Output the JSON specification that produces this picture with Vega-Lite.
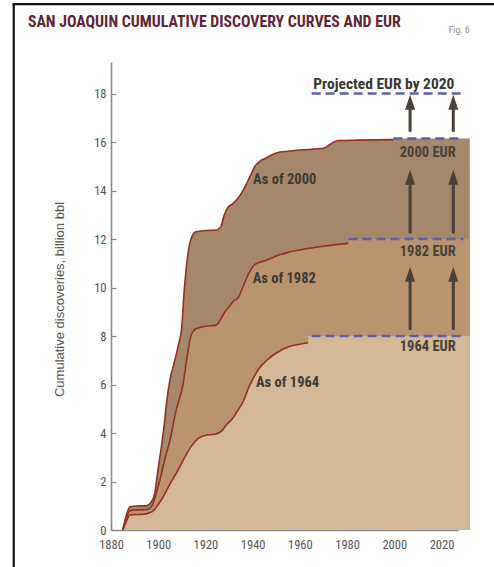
{
  "$schema": "https://vega.github.io/schema/vega-lite/v6.json",
  "width": 347,
  "height": 468,
  "autosize": {"type": "none"},
  "padding": {"left": 111, "top": 62, "right": 36, "bottom": 37},
  "background": "white",
  "config": {
    "view": {"stroke": null},
    "axis": {
      "domainColor": "#8a8a8a", "domainWidth": 1.6,
      "tickColor": "#8a8a8a", "tickWidth": 1.2, "tickSize": -5,
      "labelColor": "#555555", "labelFont": "Roboto Condensed, Liberation Sans Narrow, DejaVu Sans Condensed, Liberation Sans, sans-serif", "labelFontSize": 12.5,
      "labelFlush": false,
      "grid": false,
      "titleFont": "Liberation Sans, Arial, sans-serif", "titleFontWeight": "normal", "titleColor": "#555555", "titleFontSize": 13
    }
  },
  "datasets": {
    "curves": [
      {"series": "As of 2000", "phase": "discovery", "year": 1885, "value": 0},
      {"series": "As of 2000", "phase": "discovery", "year": 1886.5, "value": 0.6},
      {"series": "As of 2000", "phase": "discovery", "year": 1888, "value": 0.96},
      {"series": "As of 2000", "phase": "discovery", "year": 1891, "value": 0.99},
      {"series": "As of 2000", "phase": "discovery", "year": 1895, "value": 1.0},
      {"series": "As of 2000", "phase": "discovery", "year": 1897, "value": 1.15},
      {"series": "As of 2000", "phase": "discovery", "year": 1898.5, "value": 1.5},
      {"series": "As of 2000", "phase": "discovery", "year": 1899.5, "value": 2.2},
      {"series": "As of 2000", "phase": "discovery", "year": 1901, "value": 3.2},
      {"series": "As of 2000", "phase": "discovery", "year": 1902.5, "value": 4.3},
      {"series": "As of 2000", "phase": "discovery", "year": 1903.6, "value": 5.3},
      {"series": "As of 2000", "phase": "discovery", "year": 1905, "value": 6.2},
      {"series": "As of 2000", "phase": "discovery", "year": 1906.5, "value": 6.8},
      {"series": "As of 2000", "phase": "discovery", "year": 1908.5, "value": 7.6},
      {"series": "As of 2000", "phase": "discovery", "year": 1910, "value": 8.4},
      {"series": "As of 2000", "phase": "discovery", "year": 1910.8, "value": 9.6},
      {"series": "As of 2000", "phase": "discovery", "year": 1912, "value": 10.9},
      {"series": "As of 2000", "phase": "discovery", "year": 1913.3, "value": 11.8},
      {"series": "As of 2000", "phase": "discovery", "year": 1914.5, "value": 12.15},
      {"series": "As of 2000", "phase": "discovery", "year": 1916, "value": 12.3},
      {"series": "As of 2000", "phase": "discovery", "year": 1920, "value": 12.35},
      {"series": "As of 2000", "phase": "discovery", "year": 1924.5, "value": 12.37},
      {"series": "As of 2000", "phase": "discovery", "year": 1926.5, "value": 12.5},
      {"series": "As of 2000", "phase": "discovery", "year": 1928, "value": 13.0},
      {"series": "As of 2000", "phase": "discovery", "year": 1929.5, "value": 13.3},
      {"series": "As of 2000", "phase": "discovery", "year": 1931.5, "value": 13.45},
      {"series": "As of 2000", "phase": "discovery", "year": 1933.5, "value": 13.65},
      {"series": "As of 2000", "phase": "discovery", "year": 1935, "value": 13.85},
      {"series": "As of 2000", "phase": "discovery", "year": 1937, "value": 14.2},
      {"series": "As of 2000", "phase": "discovery", "year": 1939, "value": 14.6},
      {"series": "As of 2000", "phase": "discovery", "year": 1941, "value": 15.0},
      {"series": "As of 2000", "phase": "discovery", "year": 1943, "value": 15.2},
      {"series": "As of 2000", "phase": "discovery", "year": 1946, "value": 15.35},
      {"series": "As of 2000", "phase": "discovery", "year": 1950, "value": 15.55},
      {"series": "As of 2000", "phase": "discovery", "year": 1955, "value": 15.62},
      {"series": "As of 2000", "phase": "discovery", "year": 1960, "value": 15.67},
      {"series": "As of 2000", "phase": "discovery", "year": 1970, "value": 15.74},
      {"series": "As of 2000", "phase": "discovery", "year": 1973, "value": 15.92},
      {"series": "As of 2000", "phase": "discovery", "year": 1976, "value": 16.06},
      {"series": "As of 2000", "phase": "discovery", "year": 1985, "value": 16.08},
      {"series": "As of 2000", "phase": "discovery", "year": 1999.5, "value": 16.1},
      {"series": "As of 2000", "phase": "EUR", "year": 1999.6, "value": 16.15},
      {"series": "As of 2000", "phase": "EUR", "year": 2032, "value": 16.15},

      {"series": "As of 1982", "phase": "discovery", "year": 1885, "value": 0},
      {"series": "As of 1982", "phase": "discovery", "year": 1886.5, "value": 0.5},
      {"series": "As of 1982", "phase": "discovery", "year": 1888, "value": 0.8},
      {"series": "As of 1982", "phase": "discovery", "year": 1891, "value": 0.83},
      {"series": "As of 1982", "phase": "discovery", "year": 1895, "value": 0.84},
      {"series": "As of 1982", "phase": "discovery", "year": 1897, "value": 0.95},
      {"series": "As of 1982", "phase": "discovery", "year": 1898.5, "value": 1.3},
      {"series": "As of 1982", "phase": "discovery", "year": 1900.8, "value": 2.1},
      {"series": "As of 1982", "phase": "discovery", "year": 1903, "value": 3.0},
      {"series": "As of 1982", "phase": "discovery", "year": 1905, "value": 3.7},
      {"series": "As of 1982", "phase": "discovery", "year": 1907.5, "value": 4.9},
      {"series": "As of 1982", "phase": "discovery", "year": 1910.5, "value": 6.0},
      {"series": "As of 1982", "phase": "discovery", "year": 1912.5, "value": 7.3},
      {"series": "As of 1982", "phase": "discovery", "year": 1914, "value": 8.05},
      {"series": "As of 1982", "phase": "discovery", "year": 1916, "value": 8.3},
      {"series": "As of 1982", "phase": "discovery", "year": 1920, "value": 8.4},
      {"series": "As of 1982", "phase": "discovery", "year": 1924.5, "value": 8.45},
      {"series": "As of 1982", "phase": "discovery", "year": 1926.5, "value": 8.7},
      {"series": "As of 1982", "phase": "discovery", "year": 1928, "value": 8.95},
      {"series": "As of 1982", "phase": "discovery", "year": 1930, "value": 9.2},
      {"series": "As of 1982", "phase": "discovery", "year": 1932, "value": 9.45},
      {"series": "As of 1982", "phase": "discovery", "year": 1934, "value": 9.6},
      {"series": "As of 1982", "phase": "discovery", "year": 1936, "value": 10.05},
      {"series": "As of 1982", "phase": "discovery", "year": 1938.5, "value": 10.6},
      {"series": "As of 1982", "phase": "discovery", "year": 1941, "value": 10.95},
      {"series": "As of 1982", "phase": "discovery", "year": 1946, "value": 11.13},
      {"series": "As of 1982", "phase": "discovery", "year": 1950, "value": 11.3},
      {"series": "As of 1982", "phase": "discovery", "year": 1955, "value": 11.45},
      {"series": "As of 1982", "phase": "discovery", "year": 1960, "value": 11.55},
      {"series": "As of 1982", "phase": "discovery", "year": 1970, "value": 11.7},
      {"series": "As of 1982", "phase": "discovery", "year": 1980.5, "value": 11.82},
      {"series": "As of 1982", "phase": "EUR", "year": 1980.6, "value": 12.0},
      {"series": "As of 1982", "phase": "EUR", "year": 2032, "value": 12.0},

      {"series": "As of 1964", "phase": "discovery", "year": 1885, "value": 0},
      {"series": "As of 1964", "phase": "discovery", "year": 1886.5, "value": 0.35},
      {"series": "As of 1964", "phase": "discovery", "year": 1888, "value": 0.62},
      {"series": "As of 1964", "phase": "discovery", "year": 1891, "value": 0.64},
      {"series": "As of 1964", "phase": "discovery", "year": 1894, "value": 0.65},
      {"series": "As of 1964", "phase": "discovery", "year": 1896, "value": 0.7},
      {"series": "As of 1964", "phase": "discovery", "year": 1898, "value": 0.8},
      {"series": "As of 1964", "phase": "discovery", "year": 1900, "value": 1.05},
      {"series": "As of 1964", "phase": "discovery", "year": 1902, "value": 1.35},
      {"series": "As of 1964", "phase": "discovery", "year": 1905, "value": 1.9},
      {"series": "As of 1964", "phase": "discovery", "year": 1908, "value": 2.4},
      {"series": "As of 1964", "phase": "discovery", "year": 1911, "value": 2.95},
      {"series": "As of 1964", "phase": "discovery", "year": 1914, "value": 3.45},
      {"series": "As of 1964", "phase": "discovery", "year": 1917, "value": 3.78},
      {"series": "As of 1964", "phase": "discovery", "year": 1920, "value": 3.9},
      {"series": "As of 1964", "phase": "discovery", "year": 1924, "value": 3.95},
      {"series": "As of 1964", "phase": "discovery", "year": 1927, "value": 4.1},
      {"series": "As of 1964", "phase": "discovery", "year": 1929, "value": 4.35},
      {"series": "As of 1964", "phase": "discovery", "year": 1931.5, "value": 4.6},
      {"series": "As of 1964", "phase": "discovery", "year": 1933.5, "value": 4.9},
      {"series": "As of 1964", "phase": "discovery", "year": 1936, "value": 5.3},
      {"series": "As of 1964", "phase": "discovery", "year": 1938, "value": 5.8},
      {"series": "As of 1964", "phase": "discovery", "year": 1940.5, "value": 6.3},
      {"series": "As of 1964", "phase": "discovery", "year": 1943, "value": 6.7},
      {"series": "As of 1964", "phase": "discovery", "year": 1946, "value": 7.0},
      {"series": "As of 1964", "phase": "discovery", "year": 1950, "value": 7.3},
      {"series": "As of 1964", "phase": "discovery", "year": 1955, "value": 7.55},
      {"series": "As of 1964", "phase": "discovery", "year": 1960, "value": 7.66},
      {"series": "As of 1964", "phase": "discovery", "year": 1963.5, "value": 7.72},
      {"series": "As of 1964", "phase": "EUR", "year": 1963.6, "value": 8.0},
      {"series": "As of 1964", "phase": "EUR", "year": 2032, "value": 8.0}
    ],
    "eur": [
      {"name": "Projected EUR by 2020", "value": 18.0, "year": 1965, "year2": 2029.3},
      {"name": "2000 EUR", "value": 16.15, "year": 1999.6, "year2": 2028},
      {"name": "1982 EUR", "value": 12.0, "year": 1980.6, "year2": 2029.3},
      {"name": "1964 EUR", "value": 8.0, "year": 1965, "year2": 2029.3}
    ],
    "arrows": [
      {"year": 2006.7, "value": 8.25, "value2": 10.65},
      {"year": 2025, "value": 8.25, "value2": 10.65},
      {"year": 2006.7, "value": 12.23, "value2": 14.65},
      {"year": 2025, "value": 12.23, "value2": 14.65},
      {"year": 2006.7, "value": 16.42, "value2": 17.74},
      {"year": 2025, "value": 16.42, "value2": 17.74}
    ],
    "curveLabels": [
      {"text": "As of 2000", "year": 1940.2, "value": 14.43},
      {"text": "As of 1982", "year": 1940.0, "value": 10.34},
      {"text": "As of 1964", "year": 1941.4, "value": 6.07}
    ],
    "eurLabels": [
      {"text": "2000 EUR", "year": 2014.2, "value": 15.53},
      {"text": "1982 EUR", "year": 2014.2, "value": 11.45},
      {"text": "1964 EUR", "year": 2014.2, "value": 7.56}
    ]
  },
  "layer": [
    {
      "data": {"name": "curves"},
      "transform": [{"filter": "datum.series === 'As of 2000'"}],
      "mark": {"type": "area", "color": "#a5876b", "interpolate": "monotone", "opacity": 1},
      "encoding": {
        "x": {"field": "year", "type": "quantitative",
          "scale": {"domain": [1880, 2027], "nice": false, "zero": false},
          "axis": {"title": null, "values": [1880, 1890, 1900, 1910, 1920, 1930, 1940, 1950, 1960, 1970, 1980, 1990, 2000, 2010, 2020],
            "format": "d", "labelExpr": "datum.value % 20 == 0 ? datum.label : ''", "labelPadding": 13}},
        "y": {"field": "value", "type": "quantitative", "stack": null,
          "scale": {"domain": [0, 19.3], "nice": false, "zero": true},
          "axis": {"title": "Cumulative discoveries, billion bbl", "values": [0, 2, 4, 6, 8, 10, 12, 14, 16, 18],
            "labelPadding": 10, "titlePadding": 27, "titleY": 237}}
      }
    },
    {
      "data": {"name": "curves"},
      "transform": [{"filter": "datum.series === 'As of 1982'"}],
      "mark": {"type": "area", "color": "#b9946f", "interpolate": "monotone", "opacity": 1},
      "encoding": {
        "x": {"field": "year", "type": "quantitative"},
        "y": {"field": "value", "type": "quantitative", "stack": null}
      }
    },
    {
      "data": {"name": "curves"},
      "transform": [{"filter": "datum.series === 'As of 1964'"}],
      "mark": {"type": "area", "color": "#d4b898", "interpolate": "monotone", "opacity": 1},
      "encoding": {
        "x": {"field": "year", "type": "quantitative"},
        "y": {"field": "value", "type": "quantitative", "stack": null}
      }
    },
    {
      "data": {"name": "curves"},
      "transform": [{"filter": "datum.phase === 'discovery'"}],
      "mark": {"type": "line", "color": "#962f22", "strokeWidth": 1.6, "interpolate": "monotone"},
      "encoding": {
        "x": {"field": "year", "type": "quantitative"},
        "y": {"field": "value", "type": "quantitative"},
        "detail": {"field": "series"}
      }
    },
    {
      "data": {"name": "eur"},
      "mark": {"type": "rule", "color": "#5f5fa8", "strokeWidth": 2.5, "strokeDash": [9, 5]},
      "encoding": {
        "x": {"field": "year", "type": "quantitative"},
        "x2": {"field": "year2"},
        "y": {"field": "value", "type": "quantitative"}
      }
    },
    {
      "data": {"name": "arrows"},
      "mark": {"type": "rule", "color": "#4a4037", "strokeWidth": 3},
      "encoding": {
        "x": {"field": "year", "type": "quantitative"},
        "y": {"field": "value", "type": "quantitative"},
        "y2": {"field": "value2"}
      }
    },
    {
      "data": {"name": "arrows"},
      "mark": {"type": "point", "shape": "M0,-0.5L0.5,1L-0.5,1Z", "size": 400, "filled": true, "color": "#4a4037", "opacity": 1},
      "encoding": {
        "x": {"field": "year", "type": "quantitative"},
        "y": {"field": "value2", "type": "quantitative"}
      }
    },
    {
      "data": {"name": "curveLabels"},
      "mark": {"type": "text", "align": "left", "baseline": "middle", "font": "Roboto Condensed, Liberation Sans Narrow, DejaVu Sans Condensed, Liberation Sans, sans-serif", "fontSize": 14.5, "fontWeight": "bold", "color": "#3d3a33"},
      "encoding": {
        "x": {"field": "year", "type": "quantitative"},
        "y": {"field": "value", "type": "quantitative"},
        "text": {"field": "text"}
      }
    },
    {
      "data": {"name": "eurLabels"},
      "mark": {"type": "text", "align": "center", "baseline": "middle", "font": "Roboto Condensed, Liberation Sans Narrow, DejaVu Sans Condensed, Liberation Sans, sans-serif", "fontSize": 14.5, "fontWeight": "bold", "color": "#46423c"},
      "encoding": {
        "x": {"field": "year", "type": "quantitative"},
        "y": {"field": "value", "type": "quantitative"},
        "text": {"field": "text"}
      }
    },
    {
      "data": {"values": [{"text": "Projected EUR by 2020", "year": 1995.6, "value": 18.39}]},
      "mark": {"type": "text", "align": "center", "baseline": "middle", "font": "Roboto Condensed, Liberation Sans Narrow, DejaVu Sans Condensed, Liberation Sans, sans-serif", "fontSize": 15.5, "fontWeight": "bold", "color": "#3a3632"},
      "encoding": {
        "x": {"field": "year", "type": "quantitative"},
        "y": {"field": "value", "type": "quantitative"},
        "text": {"field": "text"}
      }
    },
    {
      "data": {"values": [{"text": "SAN JOAQUIN CUMULATIVE DISCOVERY CURVES AND EUR", "year": 1844.8, "value": 20.74}]},
      "mark": {"type": "text", "align": "left", "baseline": "alphabetic", "font": "Roboto Condensed, Liberation Sans Narrow, DejaVu Sans Condensed, Liberation Sans, sans-serif", "fontSize": 15.8, "fontWeight": "bold", "color": "#5e2636"},
      "encoding": {
        "x": {"field": "year", "type": "quantitative"},
        "y": {"field": "value", "type": "quantitative"},
        "text": {"field": "text"}
      }
    },
    {
      "data": {"values": [{"text": "Fig. 6", "year": 2027.5, "value": 20.62}]},
      "mark": {"type": "text", "align": "center", "baseline": "middle", "font": "Roboto Condensed, Liberation Sans Narrow, DejaVu Sans Condensed, Liberation Sans, sans-serif", "fontSize": 9.5, "color": "#8a8a8a"},
      "encoding": {
        "x": {"field": "year", "type": "quantitative"},
        "y": {"field": "value", "type": "quantitative"},
        "text": {"field": "text"}
      }
    },
    {
      "data": {"values": [{"year": 1838.8, "value": 21.69, "value2": -1.7}]},
      "mark": {"type": "rule", "color": "#111111", "strokeWidth": 2.2},
      "encoding": {
        "x": {"field": "year", "type": "quantitative"},
        "y": {"field": "value", "type": "quantitative"},
        "y2": {"field": "value2"}
      }
    },
    {
      "data": {"values": [{"year": 1838.3, "year2": 2046, "value": 21.69}]},
      "mark": {"type": "rule", "color": "#111111", "strokeWidth": 2.2},
      "encoding": {
        "x": {"field": "year", "type": "quantitative"},
        "x2": {"field": "year2"},
        "y": {"field": "value", "type": "quantitative"}
      }
    }
  ]
}
